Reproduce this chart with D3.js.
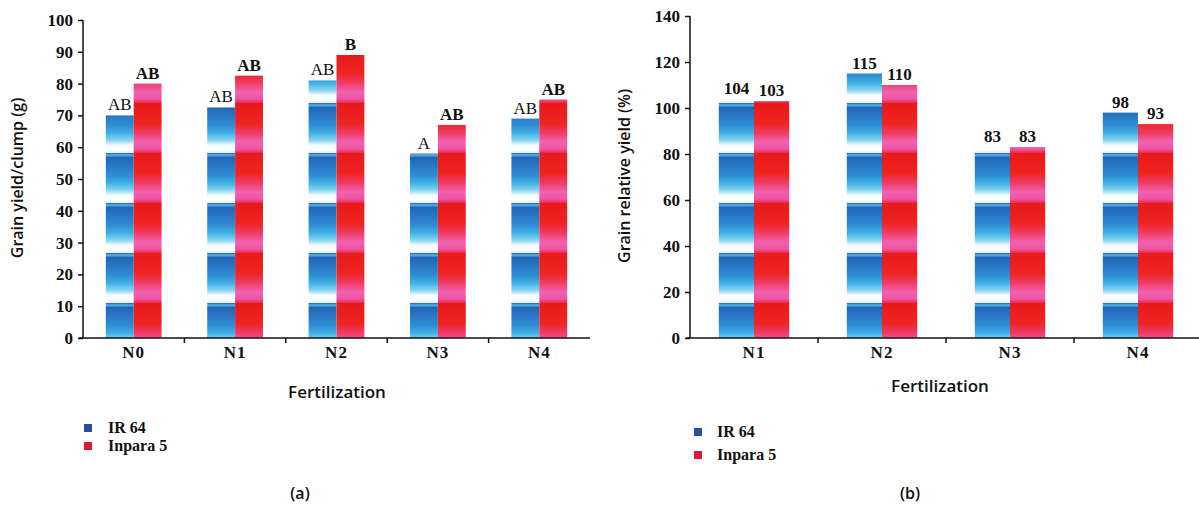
<!DOCTYPE html>
<html>
<head>
<meta charset="utf-8">
<script src="https://cdn.jsdelivr.net/npm/d3@7"></script>
<style>
  body { margin: 0; background: #fff; }
  svg { display: block; }
  .tick text { font-family: "Liberation Serif", serif; font-weight: bold; font-size: 17px; fill: #111; }
  .domain, .tick line { stroke: #111; stroke-width: 1.5px; }
</style>
</head>
<body>
<svg id="chart" width="1199" height="506"></svg>
<script>
// panel (a): grain yield per clump
const catsA = ["N0", "N1", "N2", "N3", "N4"];
const ir64A = [70, 72.5, 81, 58, 69];
const inparaA = [80, 82.5, 89, 67, 75];
const lettersIrA = ["AB", "AB", "AB", "A", "AB"];
const lettersInA = ["AB", "AB", "B", "AB", "AB"];
const ticksA = [0, 10, 20, 30, 40, 50, 60, 70, 80, 90, 100];

// panel (b): grain relative yield
const catsB = ["N1", "N2", "N3", "N4"];
const ir64B = [104, 115, 83, 98];
const inparaB = [103, 110, 83, 93];
const ticksB = [0, 20, 40, 60, 80, 100, 120, 140];

const seriesNames = ["IR 64", "Inpara 5"];

const svg = d3.select("#chart");
const defs = svg.append("defs");

// striped fills (scan look of the original)
function stripes(id, stops) {
  const g = defs.append("linearGradient")
    .attr("id", id)
    .attr("gradientUnits", "userSpaceOnUse")
    .attr("spreadMethod", "repeat")
    .attr("x1", 0).attr("x2", 0)
    .attr("y1", 3).attr("y2", 53);
  stops.forEach(s => g.append("stop").attr("offset", s[0]).attr("stop-color", s[1]));
}
stripes("blueFill", [
  [0, "#1f5aae"], [0.04, "#5ab6e6"], [0.09, "#2266b6"], [0.3, "#2a7cc8"],
  [0.45, "#2f8ed4"], [0.6, "#3fb0e4"], [0.74, "#84d4f0"], [0.84, "#f0fafe"],
  [0.94, "#ffffff"], [1, "#d8effa"]
]);
stripes("redFill", [
  [0, "#e81a1c"], [0.4, "#ee2420"], [0.6, "#ef3c66"], [0.78, "#f062b0"],
  [0.92, "#f054a4"], [1, "#ea2c44"]
]);

function panel(opt) {
  const g = svg.append("g");
  const x0 = d3.scaleBand().domain(opt.cats).range(opt.xRange).padding(0);
  const bw = x0.bandwidth();
  const x1 = d3.scaleBand().domain(seriesNames).range([bw * 0.225, bw * 0.775]).padding(0);
  const y = d3.scaleLinear().domain([0, opt.max]).range([338, opt.yTop]);

  const rows = opt.cats.map((c, i) => ({ cat: c, vals: [opt.ir[i], opt.inp[i]], labs: opt.labels.map(l => l[i]) }));

  const grp = g.selectAll(".grp").data(rows).enter().append("g")
    .attr("transform", d => `translate(${x0(d.cat)},0)`);

  grp.selectAll("rect")
    .data(d => d.vals.map((v, k) => ({ v, k, lab: d.labs[k] })))
    .enter().append("rect")
    .attr("x", d => x1(seriesNames[d.k]))
    .attr("width", x1.bandwidth())
    .attr("y", d => y(d.v))
    .attr("height", d => y(0) - y(d.v))
    .attr("fill", d => d.k === 0 ? "url(#blueFill)" : "url(#redFill)");

  grp.selectAll("text.lab")
    .data(d => d.vals.map((v, k) => ({ v, k, lab: d.labs[k] })))
    .enter().append("text")
    .attr("class", "lab")
    .attr("x", d => x1(seriesNames[d.k]) + x1.bandwidth() / 2)
    .attr("y", d => y(d.v) - 5)
    .attr("text-anchor", "middle")
    .attr("font-family", "Liberation Serif, serif")
    .attr("font-size", 17)
    .attr("font-weight", d => opt.boldLab(d.k))
    .attr("fill", "#111")
    .text(d => d.lab);

  // axes
  g.append("g")
    .attr("transform", `translate(${opt.xRange[0]},0)`)
    .call(d3.axisLeft(y).tickValues(opt.ticks).tickSize(5).tickPadding(5).tickSizeOuter(0))
    .call(a => a.select(".domain").attr("d", `M0,${y(0)}V${y(opt.max)}`));

  const xa = g.append("g")
    .attr("transform", `translate(0,${y(0)})`)
    .call(d3.axisBottom(x0).tickSize(0).tickPadding(8).tickSizeOuter(0));
  xa.selectAll(".tick text").attr("letter-spacing", 1);
  xa.select(".domain").attr("d", `M${opt.xRange[0] - 4},0H${opt.xRange[1]}`);
  xa.selectAll(".bt").data(opt.cats.slice(1)).enter().append("line")
    .attr("class", "bt")
    .attr("x1", d => x0(d)).attr("x2", d => x0(d))
    .attr("y1", 0).attr("y2", 5)
    .attr("stroke", "#111").attr("stroke-width", 1.5);

  // titles
  g.append("text")
    .attr("transform", `translate(${opt.yTitleX},${opt.yTitleY}) rotate(-90)`)
    .attr("text-anchor", "middle")
    .attr("font-family", "Open Sans, sans-serif")
    .attr("font-weight", 600)
    .attr("font-size", 16)
    .attr("fill", "#111")
    .text(opt.yTitle);

  g.append("text")
    .attr("x", opt.xTitleX).attr("y", opt.xTitleY)
    .attr("text-anchor", "middle")
    .attr("font-family", "Open Sans, sans-serif")
    .attr("font-weight", 600)
    .attr("font-size", 17)
    .attr("fill", "#111")
    .text("Fertilization");

  // legend
  const lg = g.selectAll(".leg").data(seriesNames).enter().append("g")
    .attr("transform", (d, i) => `translate(${opt.legX},${opt.legY + i * opt.legGap})`);
  lg.append("rect")
    .attr("x", 0).attr("y", -4).attr("width", 8).attr("height", 8)
    .attr("fill", (d, i) => i === 0 ? "#2b4f9d" : "#d71a35");
  lg.append("text")
    .attr("x", opt.legTextDx).attr("y", 5)
    .attr("font-family", "Liberation Serif, serif")
    .attr("font-weight", "bold")
    .attr("font-size", 16)
    .attr("fill", "#111")
    .text(d => d);

  g.append("text")
    .attr("x", opt.capX).attr("y", 499)
    .attr("text-anchor", "middle")
    .attr("font-family", "Open Sans, sans-serif")
    .attr("font-weight", 600)
    .attr("font-size", 16)
    .attr("fill", "#111")
    .text(opt.caption);
}

panel({
  cats: catsA, ir: ir64A, inp: inparaA, labels: [lettersIrA, lettersInA],
  boldLab: k => k === 0 ? "normal" : "bold",
  xRange: [83, 590], max: 100, yTop: 20, ticks: ticksA,
  yTitle: "Grain yield/clump (g)", yTitleX: 23, yTitleY: 178,
  xTitleX: 337, xTitleY: 398,
  legX: 84, legY: 428, legGap: 18, legTextDx: 24,
  capX: 300, caption: "(a)"
});

panel({
  cats: catsB, ir: ir64B, inp: inparaB, labels: [ir64B, inparaB],
  boldLab: () => "bold",
  xRange: [690, 1202], max: 140, yTop: 16, ticks: ticksB,
  yTitle: "Grain relative yield (%)", yTitleX: 630, yTitleY: 176,
  xTitleX: 940, xTitleY: 392,
  legX: 694, legY: 432, legGap: 23, legTextDx: 23,
  capX: 910, caption: "(b)"
});
</script>
</body>
</html>
